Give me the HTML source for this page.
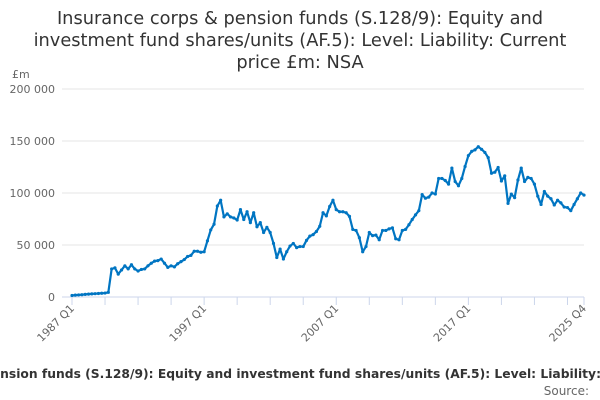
<!DOCTYPE html>
<html><head><meta charset="utf-8"><style>
html,body{margin:0;padding:0;background:#fff;width:600px;height:400px;overflow:hidden;font-family:"Liberation Sans","DejaVu Sans",sans-serif}
svg{position:absolute;left:0;top:0}
</style></head><body>
<svg id="chart" width="600" height="400" xmlns="http://www.w3.org/2000/svg">
<g font-family="DejaVu Sans, sans-serif" font-size="17.8" fill="#333" text-anchor="middle">
<text x="300" y="24">Insurance corps &amp; pension funds (S.128/9): Equity and</text>
<text x="300" y="46">investment fund shares/units (AF.5): Level: Liability: Current</text>
<text x="300" y="68">price £m: NSA</text>
</g>
<text x="12" y="78" font-family="DejaVu Sans, sans-serif" font-size="11" fill="#666">£m</text>
<g id="grid"></g><g id="yticks"></g><g id="xticks"></g><g id="series"></g>
<text x="307" y="378" text-anchor="middle" font-family="DejaVu Sans, sans-serif" font-size="12.3" font-weight="bold" fill="#333">Insurance corps &amp; pension funds (S.128/9): Equity and investment fund shares/units (AF.5): Level: Liability: Current price £m: NSA</text>
<text x="589" y="395" text-anchor="end" font-family="DejaVu Sans, sans-serif" font-size="12" fill="#666">Source:</text>
</svg>
<script>
const values = [1.5,1.8,2,2.2,2.5,2.8,3,3.2,3.4,3.6,3.8,4.5,
27,28,22,26,30,27,31,27,25,26.5,27,30,32.5,34.5,35,36.5,32.5,28.5,30,29,32,34,36,39,40,44,44,43,
43.5,54,64.5,70,87.5,93,77,80,77,76,74,84,74.5,82,71.5,81,67.5,71.5,62,67,62,51.6,38,46,36.5,43.5,49,51.5,47.5,48.5,48.5,54.5,58.5,60,63,68,81,78,87,93,
84,82,82,81,77.5,65,64,57,43.5,48.5,62,59,59.5,55,64,64,65.5,66.5,56,55,64,65,69.5,74.5,79,83,98.5,95,96,100,99,114,114,112,108.5,124,111,107,114,125.5,
136,140,141.5,144.5,142,139,134,119,120,124.5,111.5,116.5,90,99,95.5,112.5,124,111,115,114,108.5,97,89,101.5,97,94.5,88.5,93,90.5,86.5,86,83,89,94.5,100,98];
const yTicks = [0,50,100,150,200];
const yTickLabels = ["0","50 000","100 000","150 000","200 000"];
const xLabelIdx = [0,40,80,120,155];
const xLabels = ["1987 Q1","1997 Q1","2007 Q1","2017 Q1","2025 Q4"];
const NS="http://www.w3.org/2000/svg";
const x0=72,x1=584,yBase=297,yTop=89,left=62;
const X=i=>x0+(x1-x0)*i/(values.length-1);
const Y=v=>yBase-(yBase-yTop)*v/200;
function mk(t,a,p){const e=document.createElementNS(NS,t);for(const k in a)e.setAttribute(k,a[k]);p.appendChild(e);return e;}
const grid=document.getElementById('grid'),yt=document.getElementById('yticks'),xt=document.getElementById('xticks'),ser=document.getElementById('series');
yTicks.forEach((v,i)=>{
 const l=mk('line',{x1:left,x2:x1,y1:Y(v),y2:Y(v),stroke:i==0?'#ccd6eb':'#e6e6e6','stroke-width':1},grid);
 
 
 const t=mk('text',{x:55,y:Y(v)+4,'text-anchor':'end','font-size':11,fill:'#666','font-family':'DejaVu Sans, sans-serif'},yt);
 t.textContent=yTickLabels[i];
 
 
});
for(let i=0;i<values.length;i+=10){
 const l=mk('line',{x1:X(i),x2:X(i),y1:yBase,y2:yBase+8,stroke:'#ccd6eb'},xt);
 
 
}
{const l=mk('line',{x1:X(155),x2:X(155),y1:yBase,y2:yBase+8,stroke:'#ccd6eb'},xt);
 
 }
xLabelIdx.forEach((q,i)=>{
 const x=X(q)+3,y=yBase+12;
 const t=mk('text',{x:x,y:y,'text-anchor':'end','font-size':11,fill:'#666','font-family':'DejaVu Sans, sans-serif',transform:`rotate(-45 ${x} ${y})`},xt);
 t.textContent=xLabels[i];
 
 
});
const p=mk('path',{d:values.map((v,i)=>(i?'L':'M')+X(i).toFixed(2)+' '+Y(v).toFixed(2)).join(''),fill:'none',stroke:'#0075c2','stroke-width':2.2,'stroke-linejoin':'round'},ser);


values.forEach((v,i)=>{
 const c=mk('circle',{cx:X(i),cy:Y(v),r:1.6,fill:'#0075c2'},ser);
 
 
});
</script>
</body></html>
